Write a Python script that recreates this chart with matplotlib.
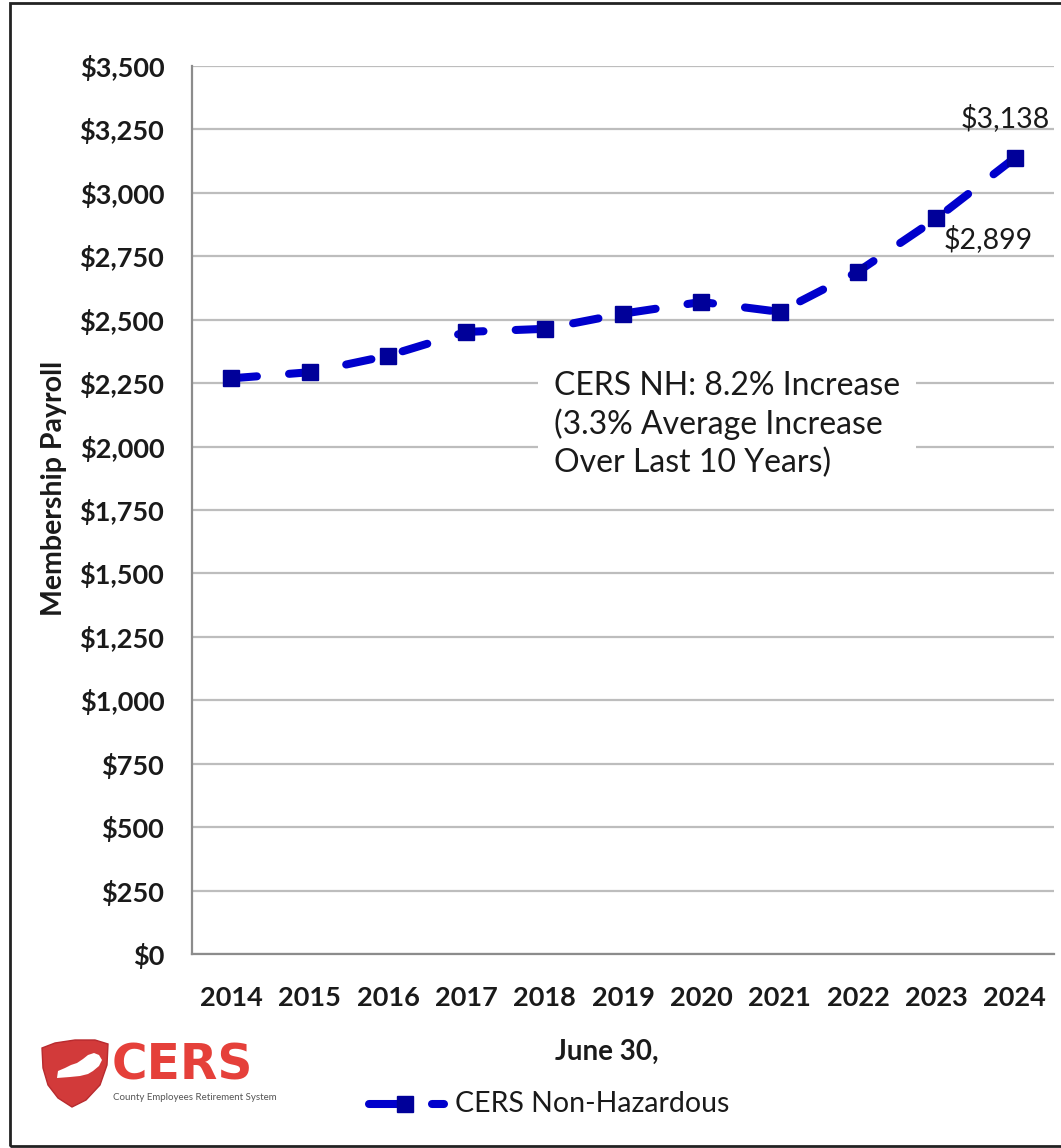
import matplotlib.pyplot as plt
from matplotlib.patches import Polygon, Rectangle
from matplotlib.lines import Line2D
from matplotlib.ticker import FuncFormatter

plt.rcParams['font.family'] = ['Lato', 'DejaVu Sans']

# Membership payroll, $ millions, as of June 30
years = ['2014', '2015', '2016', '2017', '2018', '2019', '2020', '2021', '2022', '2023', '2024']
payroll = [2269, 2293, 2358, 2452, 2464, 2524, 2570, 2531, 2690, 2899, 3138]
y_ticks = list(range(0, 3501, 250))
note_text = 'CERS NH: 8.2% Increase\n(3.3% Average Increase\nOver Last 10 Years)'
series_name = 'CERS Non-Hazardous'

LINE_BLUE = '#0000CC'
MARK_BLUE = '#000099'
TEXT = '#1A1A1A'
W, H = 1061, 1148

fig = plt.figure(figsize=(W / 100, H / 100), dpi=100)
ax = fig.add_axes([0.181, 0.1690, 0.8124, 0.7735])


def px(x, y):
    # pixel position (from top-left) -> figure fraction
    return [x / W, 1 - y / H]


x = list(range(len(years)))
ax.plot(x, payroll, color=LINE_BLUE, lw=5.8, dashes=(3.2, 4.0), dash_capstyle='round',
        marker='s', markersize=11.5, markerfacecolor=MARK_BLUE, markeredgecolor=MARK_BLUE, zorder=3)

ax.set_xlim(-0.5, len(years) - 0.5)
ax.set_ylim(0, 3500)
ax.set_xticks(x)
ax.set_xticklabels(years)
ax.set_yticks(y_ticks)
ax.yaxis.set_major_formatter(FuncFormatter(lambda v, p: f'${v:,.0f}'))
ax.tick_params(axis='y', length=0, labelsize=19.5, pad=20, labelcolor=TEXT)
ax.tick_params(axis='x', length=0, labelsize=19.5, pad=23, labelcolor=TEXT)
for lab in ax.get_xticklabels() + ax.get_yticklabels():
    lab.set_fontweight('bold')

ax.grid(axis='y', color='#BDBDBD', lw=1.6, zorder=0)
for side in ['top', 'right']:
    ax.spines[side].set_visible(False)
for side in ['left', 'bottom']:
    ax.spines[side].set_color('#8C8C8C')
    ax.spines[side].set_linewidth(1.6)

ax.set_ylabel('Membership Payroll', fontsize=20.5, fontweight='bold', color=TEXT)
ax.yaxis.set_label_coords(-0.145, 0.524)
fig.text(*px(607, 1052), 'June 30,', ha='center', va='center', fontsize=20,
         fontweight='bold', color=TEXT)

# value labels for the last two years
ax.annotate(f'${payroll[-1]:,}', (x[-1], payroll[-1]), xytext=(-7, 29), textcoords='offset points',
            ha='center', va='center', fontsize=20.5, color=TEXT)
ax.annotate(f'${payroll[-2]:,}', (x[-2], payroll[-2]), xytext=(37, -15), textcoords='offset points',
            ha='center', va='center', fontsize=20.5, color=TEXT)

ax.text(*px(554, 371), note_text, transform=fig.transFigure, ha='left', va='top', fontsize=23,
        linespacing=1.3, color=TEXT, zorder=4,
        bbox=dict(facecolor='white', edgecolor='none', boxstyle='square,pad=0.5'))

# outer frame
fig.add_artist(Rectangle((10 / W, 2 / H), 1.2, 1 - 5 / H, transform=fig.transFigure,
                         fill=False, edgecolor='#222222', lw=2))

# legend: dash + marker, gap, short dash, label
leg = px(0, 1104)[1]
fig.add_artist(Line2D([369 / W, 404 / W], [leg, leg], transform=fig.transFigure, color=LINE_BLUE,
                      lw=5.8, solid_capstyle='round'))
fig.add_artist(Line2D([405 / W], [leg], transform=fig.transFigure, marker='s', markersize=11.5,
                      color=MARK_BLUE, linestyle='none'))
fig.add_artist(Line2D([432 / W, 444 / W], [leg, leg], transform=fig.transFigure, color=LINE_BLUE,
                      lw=5.8, solid_capstyle='round'))
fig.text(455 / W, leg, series_name, ha='left', va='center', fontsize=20.5, color=TEXT)

# CERS logo: shield, state outline, wordmark
shield_px = [(42, 1048), (55, 1043), (75, 1040), (95, 1040), (108, 1044), (107, 1065),
             (100, 1085), (86, 1100), (72, 1107), (58, 1098), (48, 1085), (43, 1068)]
fig.add_artist(Polygon([px(*p) for p in shield_px], closed=True, transform=fig.transFigure,
                       facecolor='#D23A3A', edgecolor='#B82A2E', lw=1))
state_px = [(57, 1078), (58, 1071), (65, 1068), (71, 1065), (77, 1063), (83, 1059), (88, 1055),
            (94, 1053), (99, 1055), (102, 1060), (99, 1066), (93, 1071), (88, 1074), (80, 1076),
            (70, 1077)]
fig.add_artist(Polygon([px(*p) for p in state_px], closed=True, transform=fig.transFigure,
                       facecolor='white', edgecolor='none'))
fig.text(*px(112, 1066), 'CERS', ha='left', va='center', fontsize=35, fontweight='bold',
         family='DejaVu Sans', color='#E5403A')
fig.text(*px(113, 1097), 'County Employees Retirement System', ha='left', va='center',
         fontsize=7, color='#555555')

fig.savefig('out.png', dpi=100)
